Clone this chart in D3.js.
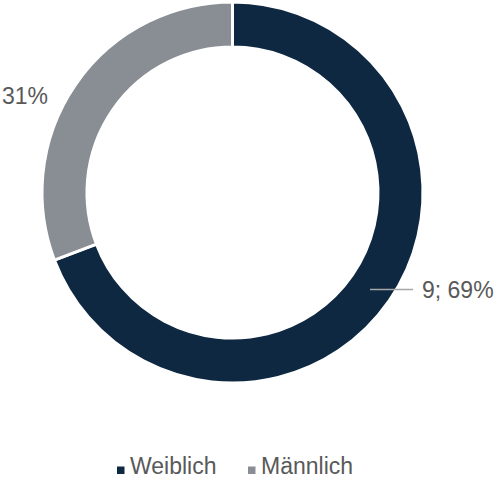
<!DOCTYPE html>
<html>
<head>
<meta charset="utf-8">
<script src="https://cdn.jsdelivr.net/npm/d3@7"></script>
<style>
  html, body { margin: 0; padding: 0; background: #ffffff; overflow: hidden; }
</style>
</head>
<body>
<div id="chart"></div>
<script>
// data
const categories = ["Weiblich", "Männlich"];
const values = [9, 4];
const colorList = ["#0e2841", "#898e95"];

const width = 495, height = 479;
const cx = 232.5, cy = 192.5;
const outerR = 190.5, innerR = 145.5;
const fontFamily = "Liberation Sans, Arial, sans-serif";
const fontSize = "23px";
const textColor = "#595959";

const svg = d3.select("#chart").append("svg")
    .attr("width", width).attr("height", height)
    .attr("viewBox", `0 0 ${width} ${height}`);

const color = d3.scaleOrdinal().domain(categories).range(colorList);
const total = d3.sum(values);
const rows = categories.map((c, i) => ({ cat: c, value: values[i] }));

const pie = d3.pie().value(d => d.value).sort(null);
const arc = d3.arc().innerRadius(innerR).outerRadius(outerR);
const arcs = pie(rows);

const g = svg.append("g").attr("transform", `translate(${cx},${cy})`);

g.selectAll("path").data(arcs).enter().append("path")
    .attr("d", arc)
    .attr("fill", d => color(d.data.cat))
    .attr("stroke", "#ffffff")
    .attr("stroke-width", 3)
    .attr("stroke-linejoin", "miter");

// 数据标签
const pct = d => `${Math.round(d.data.value / total * 100)}%`;

// Weiblich label with leader line (right side)
const a0 = arcs[0];
const lineY = 289.5 - cy;
g.append("line")
    .attr("x1", 370 - cx).attr("y1", lineY)
    .attr("x2", 413 - cx).attr("y2", lineY)
    .attr("stroke", "#a6a6a6").attr("stroke-width", 1.3);
g.append("text")
    .attr("x", 422 - cx).attr("y", 297.5 - cy)
    .attr("fill", textColor)
    .style("font-family", fontFamily).style("font-size", fontSize)
    .text(`${a0.data.value}; ${pct(a0)}`);

// Männlich label (left side; value part falls outside the frame in the reference)
const a1 = arcs[1];
g.append("text")
    .attr("x", 48 - cx).attr("y", 104 - cy)
    .attr("text-anchor", "end")
    .attr("fill", textColor)
    .style("font-family", fontFamily).style("font-size", fontSize)
    .text(pct(a1));

// legend
const legend = svg.append("g").attr("transform", `translate(0,474)`);
const legendX = [117, 248];
categories.forEach((c, i) => {
    const item = legend.append("g").attr("transform", `translate(${legendX[i]},0)`);
    item.append("rect")
        .attr("x", 0).attr("y", -7.5).attr("width", 7.5).attr("height", 7.5)
        .attr("fill", color(c));
    item.append("text")
        .attr("x", 13).attr("y", 0)
        .attr("fill", textColor)
        .style("font-family", fontFamily).style("font-size", fontSize)
        .text(c);
});
</script>
</body>
</html>
